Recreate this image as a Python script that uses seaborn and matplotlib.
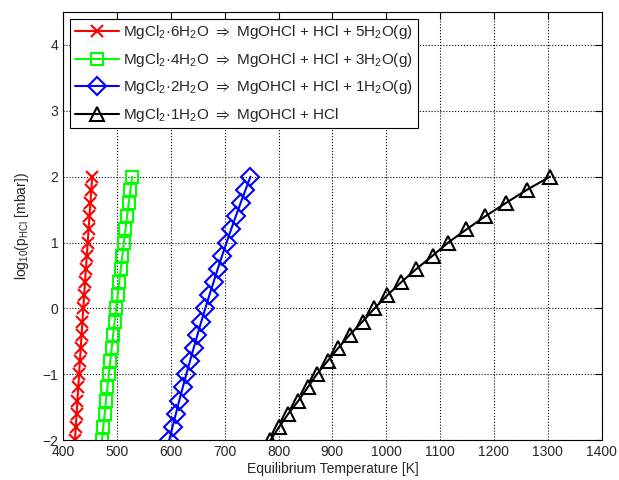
import matplotlib
matplotlib.use("Agg")
import matplotlib.pyplot as plt
import seaborn as sns

log_p = [-2.0, -1.8, -1.6, -1.4, -1.2, -1.0, -0.8, -0.6, -0.4, -0.2, 0.0,
         0.2, 0.4, 0.6, 0.8, 1.0, 1.2, 1.4, 1.6, 1.8, 2.0]

temp_6h2o = [422.0, 423.5, 425.0, 426.5, 428.0, 429.6, 431.1, 432.7, 434.2, 435.8, 437.4,
             439.0, 440.6, 442.3, 443.9, 445.6, 447.2, 448.9, 450.6, 452.3, 454.0]
temp_4h2o = [472.0, 474.5, 477.1, 479.6, 482.2, 484.9, 487.5, 490.2, 492.9, 495.7, 498.4,
             501.2, 504.1, 507.0, 509.9, 512.8, 515.8, 518.8, 521.8, 524.9, 528.0]
temp_2h2o = [597.0, 603.1, 609.3, 615.6, 622.1, 628.7, 635.5, 642.4, 649.4, 656.6, 664.0,
             671.5, 679.3, 687.1, 695.2, 703.5, 711.9, 720.6, 729.5, 738.6, 747.9]
temp_1h2o = [785.0, 801.0, 818.0, 837.0, 854.0, 871.0, 891.0, 911.0, 932.0, 956.0, 978.0,
             1002.0, 1028.0, 1056.0, 1086.0, 1115.0, 1149.0, 1184.0, 1222.0, 1261.0, 1304.0]

labels = [
    r"MgCl$_2$·6H$_2$O $\Rightarrow$ MgOHCl + HCl + 5H$_2$O(g)",
    r"MgCl$_2$·4H$_2$O $\Rightarrow$ MgOHCl + HCl + 3H$_2$O(g)",
    r"MgCl$_2$·2H$_2$O $\Rightarrow$ MgOHCl + HCl + 1H$_2$O(g)",
    r"MgCl$_2$·1H$_2$O $\Rightarrow$ MgOHCl + HCl",
]

sns.set_style("white")
plt.rcParams["font.family"] = ["Liberation Sans", "DejaVu Sans"]
plt.rcParams["mathtext.fontset"] = "custom"
plt.rcParams["mathtext.rm"] = "Liberation Sans"
plt.rcParams["mathtext.default"] = "regular"
plt.rcParams["mathtext.fallback"] = "stixsans"

fig = plt.figure(figsize=(6.19, 4.8), dpi=100)
ax = fig.add_axes([0.102, 0.083, 0.870, 0.892])

series = [
    (temp_6h2o, "#ff0000", "x", 8),
    (temp_4h2o, "#00ff00", "s", 9),
    (temp_2h2o, "#0000ff", "D", 9),
    (temp_1h2o, "#000000", "^", 10),
]
for (temps, color, marker, ms), label in zip(series, labels):
    sns.lineplot(x=temps, y=log_p, ax=ax, color=color, marker=marker,
                 markersize=ms, markerfacecolor="none", markeredgecolor=color,
                 markeredgewidth=1.5, linewidth=1.5, label=label,
                 sort=False, estimator=None)

ax.set_xlim(400, 1400)
ax.set_ylim(-2, 4.5)
ax.set_xticks(range(400, 1401, 100))
ax.set_yticks(range(-2, 5))
ax.grid(True, color="black", linestyle=":", linewidth=0.8)
ax.tick_params(direction="in", top=True, right=True, length=5, labelsize=10,
               color="black", width=0.8)
for s in ax.spines.values():
    s.set_color("black")
    s.set_linewidth(0.8)

ax.set_xlabel("Equilibrium Temperature [K]", fontsize=10, labelpad=2)
ax.set_ylabel(r"log$_{10}$(p$_{HCl}$ [mbar])", fontsize=10, labelpad=8)

leg = ax.legend(loc="upper left", fontsize=11, frameon=True, fancybox=False,
                borderpad=0.3, labelspacing=0.62, handlelength=2.9,
                handletextpad=0.3, borderaxespad=0.45)
leg.get_frame().set_edgecolor("black")
leg.get_frame().set_linewidth(0.8)
leg.get_frame().set_alpha(1.0)

fig.savefig("out.png", dpi=100)
